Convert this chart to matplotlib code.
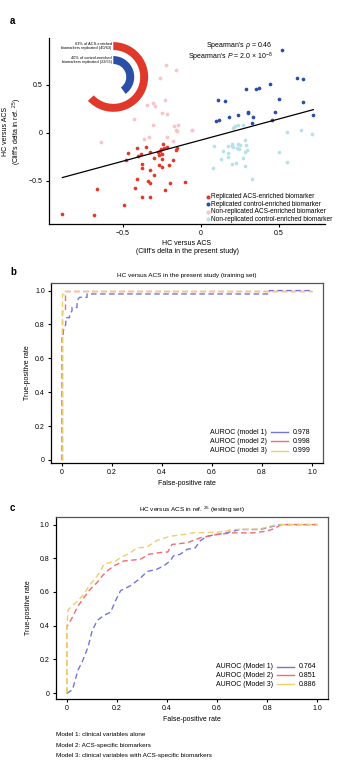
import numpy as np
import matplotlib
matplotlib.use("Agg")
import matplotlib.pyplot as plt
from matplotlib.patches import Wedge

plt.rcParams["font.family"] = ["Liberation Sans", "DejaVu Sans"]
plt.rcParams["mathtext.fontset"] = "custom"
plt.rcParams["mathtext.rm"] = "Liberation Sans"
plt.rcParams["mathtext.it"] = "Liberation Sans:italic"
plt.rcParams["axes.unicode_minus"] = True

# ── Panel a data: Cliff's delta (present study x, ref. 25 y) ──────────
rep_acs_x = [-0.893, -0.684, -0.669, -0.494, -0.466, -0.483, -0.408, -0.406, -0.387, -0.380,
             -0.376, -0.353, -0.325, -0.327, -0.299, -0.273, -0.269, -0.263, -0.258, -0.252,
             -0.241, -0.237, -0.220, -0.248, -0.267, -0.252, -0.299, -0.412, -0.423, -0.338,
             -0.325, -0.376, -0.327, -0.231, -0.199, -0.103, -0.205, -0.178, -0.156, -0.162]
rep_acs_y = [-0.844, -0.861, -0.587, -0.750, -0.212, -0.281, -0.153, -0.236, -0.222, -0.326,
             -0.361, -0.142, -0.201, -0.385, -0.257, -0.201, -0.229, -0.188, -0.170, -0.222,
             -0.118, -0.153, -0.142, -0.274, -0.333, -0.351, -0.438, -0.479, -0.576, -0.497,
             -0.521, -0.663, -0.670, -0.594, -0.517, -0.514, -0.333, -0.281, -0.153, -0.180]

rep_ctrl_x = [0.521, 0.613, 0.656, 0.288, 0.353, 0.372, 0.442, 0.111, 0.154, 0.500, 0.656,
              0.303, 0.235, 0.180, 0.335, 0.474, 0.720, 0.094, 0.118, 0.325, 0.457, 0.300]
rep_ctrl_y = [0.865, 0.576, 0.566, 0.455, 0.455, 0.472, 0.514, 0.344, 0.337, 0.354, 0.326,
              0.212, 0.184, 0.163, 0.163, 0.219, 0.188, 0.128, 0.139, 0.101, 0.135, 0.215]

non_acs_x = [-0.226, -0.160, -0.263, -0.231, -0.344, -0.306, -0.295, -0.248, -0.220, -0.427,
             -0.306, -0.173, -0.145, -0.160, -0.056, -0.641, -0.363, -0.331, -0.216, -0.178,
             -0.156, -0.060]
non_acs_y = [0.708, 0.656, 0.570, 0.344, 0.290, 0.310, 0.285, 0.205, 0.195, 0.142,
             0.083, 0.076, 0.083, 0.031, 0.030, -0.090, -0.062, -0.038, -0.038, -0.083,
             0.024, 0.031]

non_ctrl_x = [0.218, 0.240, 0.272, 0.207, 0.549, 0.641, 0.713, 0.085, 0.171, 0.197, 0.201,
              0.235, 0.229, 0.244, 0.282, 0.288, 0.282, 0.293, 0.143, 0.171, 0.175, 0.128,
              0.222, 0.197, 0.267, 0.282, 0.079, 0.502, 0.551, 0.325, 0.214, 0.250, 0.207]
non_ctrl_y = [0.076, 0.083, 0.083, 0.055, 0.014, 0.031, -0.007, -0.135, -0.132, -0.118, -0.132,
              -0.118, -0.153, -0.167, -0.073, -0.125, -0.195, -0.177, -0.188, -0.212, -0.253, -0.271,
              -0.309, -0.323, -0.257, -0.340, -0.368, -0.195, -0.299, -0.479, 0.060, -0.125, -0.142]

fit_slope = 0.44
fit_intercept = -0.074
fit_x_range = [-0.889, 0.72]

pct_replicated = [63, 40]          # ACS-enriched, control-enriched
ring_labels = ["63% of ACS-enriched\nbiomarkers replicated (40/63)",
               "40% of control-enriched\nbiomarkers replicated (22/55)"]

# ── Panel b data: training set ROC ───────────────────────────────────
b_m1_fpr = [0.0, 0.0, 0.005, 0.005, 0.015, 0.015, 0.03, 0.03, 0.04, 0.04, 0.06, 0.06, 0.07, 0.10, 0.10, 0.83, 0.83, 1.0]
b_m1_tpr = [0.0, 0.72, 0.72, 0.76, 0.80, 0.84, 0.84, 0.86, 0.88, 0.90, 0.90, 0.94, 0.96, 0.96, 0.98, 0.98, 1.0, 1.0]
b_m2_fpr = [0.0, 0.0, 0.012, 0.012, 1.0]
b_m2_tpr = [0.0, 0.88, 0.88, 1.0, 1.0]
b_m3_fpr = [0.0, 0.0, 0.01, 0.01, 1.0]
b_m3_tpr = [0.0, 0.98, 0.98, 1.0, 1.0]
b_auroc = ["0.978", "0.998", "0.999"]

# ── Panel c data: testing set ROC ────────────────────────────────────
c_m1_fpr = [0.0, 0.003, 0.023, 0.045, 0.062, 0.085, 0.102, 0.122, 0.148, 0.175, 0.195, 0.215, 0.254,
            0.281, 0.294, 0.320, 0.360, 0.387, 0.413, 0.426, 0.453, 0.480, 0.513, 0.532, 0.559,
            0.638, 0.691, 0.771, 0.797, 0.850, 1.0]
c_m1_tpr = [0.0, 0.0, 0.02, 0.137, 0.186, 0.274, 0.372, 0.431, 0.461, 0.480, 0.549, 0.608, 0.637,
            0.667, 0.682, 0.721, 0.735, 0.755, 0.784, 0.814, 0.824, 0.853, 0.862, 0.902, 0.931,
            0.951, 0.971, 0.971, 0.980, 1.0, 1.0]
c_m2_fpr = [0.0, 0.0, 0.023, 0.042, 0.069, 0.095, 0.122, 0.142, 0.162, 0.188, 0.228, 0.294, 0.327,
            0.387, 0.403, 0.420, 0.480, 0.532, 0.599, 0.665, 0.744, 0.797, 0.824, 0.857, 1.0]
c_m2_tpr = [0.0, 0.392, 0.451, 0.509, 0.568, 0.618, 0.657, 0.696, 0.725, 0.755, 0.784, 0.794, 0.824,
            0.837, 0.837, 0.882, 0.892, 0.921, 0.941, 0.951, 0.951, 0.961, 0.974, 1.0, 1.0]
c_m3_fpr = [0.0, 0.0, 0.005, 0.045, 0.069, 0.089, 0.115, 0.135, 0.148, 0.195, 0.215, 0.254, 0.281,
            0.320, 0.360, 0.413, 0.466, 0.506, 0.612, 0.665, 0.771, 0.810, 0.850, 1.0]
c_m3_tpr = [0.0, 0.38, 0.494, 0.549, 0.588, 0.637, 0.682, 0.725, 0.765, 0.784, 0.804, 0.833, 0.862,
            0.866, 0.906, 0.931, 0.941, 0.951, 0.956, 0.971, 0.974, 0.990, 1.0, 1.0]
c_auroc = ["0.764", "0.851", "0.886"]

model_notes = ["Model 1: clinical variables alone",
               "Model 2: ACS-specific biomarkers",
               "Model 3: clinical variables with ACS-specific biomarkers"]

# ── Visual style ──────────────────────────────────────
RED = "#e0392b"
BLUE = "#2b4ea6"
PINK = "#f9c3c7"
LIGHTBLUE = "#b7e1ea"
ROC_COLORS = ["#7474dc", "#f26b72", "#efcf6a"]
FS = 5

fig = plt.figure(figsize=(3.53, 7.72), dpi=100)


def style_ticks(ax):
    ax.tick_params(labelsize=FS, length=2.5, width=0.8, pad=2)


# ── Panel a ──────────────────────────────────────────
ax = fig.add_axes([0.1388, 0.7098, 0.782, 0.241])
ax.scatter(rep_acs_x, rep_acs_y, s=7, color=RED, lw=0, label="Replicated ACS-enriched biomarker", zorder=3)
ax.scatter(rep_ctrl_x, rep_ctrl_y, s=7, color=BLUE, lw=0, label="Replicated control-enriched biomarker", zorder=3)
ax.scatter(non_acs_x, non_acs_y, s=7, color=PINK, lw=0, label="Non-replicated ACS-enriched biomarker", zorder=2)
ax.scatter(non_ctrl_x, non_ctrl_y, s=7, color=LIGHTBLUE, lw=0, label="Non-replicated control-enriched biomarker", zorder=2)
fx = np.array(fit_x_range)
ax.plot(fx, fit_slope * fx + fit_intercept, color="black", lw=0.9, zorder=4)
ax.set_xlim(-0.975, 0.795)
ax.set_ylim(-0.95, 0.99)
ax.set_xticks([-0.5, 0, 0.5])
ax.set_yticks([-0.5, 0, 0.5])
ax.set_xticklabels(["\u22120.5", "0", "0.5"])
ax.set_yticklabels(["\u22120.5", "0", "0.5"])
ax.spines["top"].set_visible(False)
ax.spines["right"].set_visible(False)
for s in ["left", "bottom"]:
    ax.spines[s].set_linewidth(0.9)
style_ticks(ax)
ax.set_xlabel("HC versus ACS\n(Cliff's delta in the present study)", fontsize=FS, labelpad=2)
ax.set_ylabel("HC versus ACS\n(Cliff's delta in ref. $^{25}$)", fontsize=FS)
ax.yaxis.set_label_coords(-0.092, 0.5)
ax.text(0.81, 0.957, "Spearman's $\\rho$ = 0.46", transform=ax.transAxes, ha="right", va="center", fontsize=FS)
ax.text(0.81, 0.898, "Spearman's $P$ = 2.0 \u00d7 10$^{-8}$", transform=ax.transAxes, ha="right", va="center", fontsize=FS)
leg = ax.legend(loc="upper left", bbox_to_anchor=(0.565, 0.165), fontsize=4.7, frameon=False,
                borderpad=0, borderaxespad=0, labelspacing=0.08, handletextpad=0.15,
                handlelength=0.8, markerscale=1.1)

# donut showing replication rates
dax = fig.add_axes([0.321 - 0.11, 0.9003 - 0.0503, 0.22, 0.1006])
dax.set_xlim(-39, 39)
dax.set_ylim(-39, 39)
dax.set_aspect("equal")
dax.axis("off")
radii = [35, 21]
for pct, r, col in zip(pct_replicated, radii, [RED, BLUE]):
    span = pct / 100 * 360
    dax.add_patch(Wedge((0, 0), r, 90 - span, 90, width=8, facecolor=col, edgecolor="none"))
for lab, r in zip(ring_labels, radii):
    dax.text(-1.5, r - 4, lab, ha="right", va="center", fontsize=2.8, linespacing=1.25)

fig.text(10 / 353, 1 - 21 / 772, "a", fontsize=7, fontweight="bold", ha="left", va="center")


# ── ROC panels ───────────────────────────────────────
def roc_panel(rect, ylim, curves, title, labels, values, legend_x, legend_y, ylab_x):
    ax = fig.add_axes(rect)
    for (fpr, tpr), col in zip(curves, ROC_COLORS):
        ax.plot(fpr, tpr, color=col, lw=1.0, ls=(0, (4, 2.5)))
    ax.set_xlim(-0.044, 1.044)
    ax.set_ylim(*ylim)
    ticks = [0, 0.2, 0.4, 0.6, 0.8, 1.0]
    ax.set_xticks(ticks)
    ax.set_yticks(ticks)
    ax.set_xticklabels(["0", "0.2", "0.4", "0.6", "0.8", "1.0"])
    ax.set_yticklabels(["0", "0.2", "0.4", "0.6", "0.8", "1.0"])
    for s in ax.spines.values():
        s.set_linewidth(0.9)
    ax.spines["top"].set_color("#555555")
    ax.spines["right"].set_color("#555555")
    style_ticks(ax)
    ax.set_title(title, fontsize=4.6, pad=4)
    ax.set_xlabel("False-positive rate", fontsize=FS, labelpad=3)
    ax.set_ylabel("True-positive rate", fontsize=FS)
    ax.yaxis.set_label_coords(ylab_x, 0.5)
    for lab, val, col, y in zip(labels, values, ROC_COLORS, legend_y):
        ax.text(legend_x, y, lab, transform=ax.transAxes, ha="right", va="center", fontsize=FS)
        ax.plot([legend_x + 0.015, legend_x + 0.076], [y, y], transform=ax.transAxes, color=col, lw=1.0)
        ax.text(legend_x + 0.095, y, val, transform=ax.transAxes, ha="left", va="center", fontsize=FS)
    return ax


roc_panel([0.1445, 0.4003, 0.7705, 0.2332], (-0.018, 1.045),
          [(b_m1_fpr, b_m1_tpr), (b_m2_fpr, b_m2_tpr), (b_m3_fpr, b_m3_tpr)],
          "HC versus ACS in the present study (training set)",
          ["AUROC (model 1)", "AUROC (model 2)", "AUROC (model 3)"], b_auroc,
          0.795, [0.172, 0.122, 0.069], -0.072)
fig.text(10 / 353, 1 - 272 / 772, "b", fontsize=7, fontweight="bold", ha="left", va="center")

roc_panel([0.1578, 0.0946, 0.7722, 0.2357], (-0.035, 1.045),
          [(c_m1_fpr, c_m1_tpr), (c_m2_fpr, c_m2_tpr), (c_m3_fpr, c_m3_tpr)],
          "HC versus ACS in ref. $^{25}$ (testing set)",
          ["AUROC (Model 1)", "AUROC (Model 2)", "AUROC (Model 3)"], c_auroc,
          0.797, [0.177, 0.130, 0.082], -0.088)
fig.text(10 / 353, 1 - 508 / 772, "c", fontsize=7, fontweight="bold", ha="left", va="center")

for i, note in enumerate(model_notes):
    fig.text(56 / 353, 1 - (735 + i * 10.3) / 772, note, fontsize=4.6, ha="left", va="center")

fig.savefig("out.png", dpi=100)
